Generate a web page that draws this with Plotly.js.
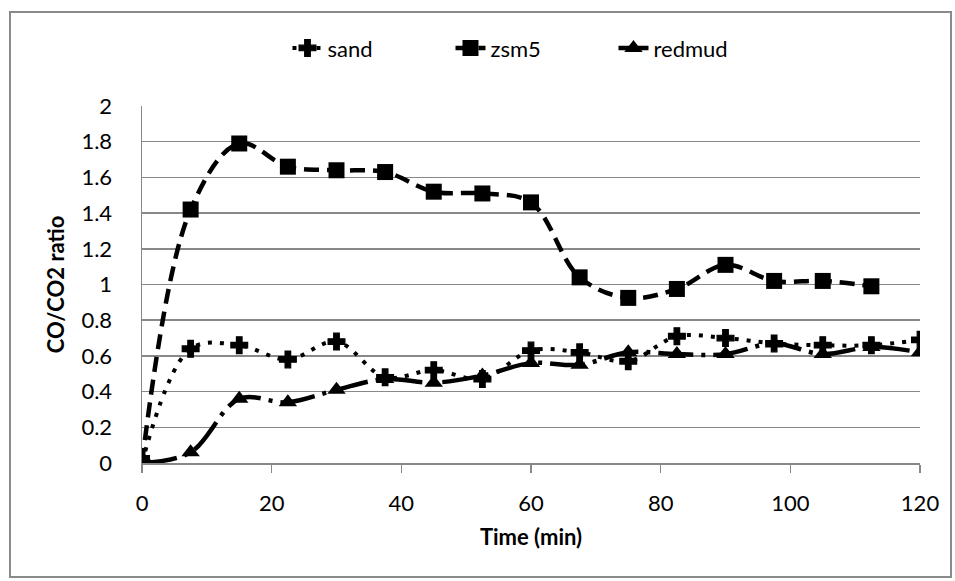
<!DOCTYPE html>
<html>
<head>
<meta charset="utf-8">
<script src="https://cdn.plot.ly/plotly-3.0.1.min.js"></script>
<style>
html,body{margin:0;padding:0;background:#fff;overflow:hidden;width:955px;height:581px;}
#frame{position:absolute;left:9px;top:11px;width:943px;height:567px;border:2px solid #8a8a8a;box-sizing:border-box;pointer-events:none;}
#chart{position:absolute;left:0;top:0;width:955px;height:581px;}
</style>
</head>
<body>
<div id="chart"></div>
<div id="frame"></div>
<script>
var timeMin = [0, 7.5, 15, 22.5, 30, 37.5, 45, 52.5, 60, 67.5, 75, 82.5, 90, 97.5, 105, 112.5, 120];
var timeZsm5 = [0, 7.5, 15, 22.5, 30, 37.5, 45, 52.5, 60, 67.5, 75, 82.5, 90, 97.5, 105, 112.5];
var sand = [0, 0.64, 0.66, 0.58, 0.68, 0.48, 0.52, 0.47, 0.63, 0.62, 0.57, 0.71, 0.70, 0.67, 0.66, 0.66, 0.69];
var zsm5 = [0, 1.42, 1.79, 1.66, 1.64, 1.63, 1.52, 1.51, 1.46, 1.04, 0.925, 0.975, 1.11, 1.02, 1.02, 0.99];
var redmud = [0, 0.06, 0.36, 0.34, 0.41, 0.47, 0.45, 0.49, 0.56, 0.55, 0.62, 0.61, 0.61, 0.67, 0.61, 0.65, 0.62];
var seriesNames = ['sand', 'zsm5', 'redmud'];
var xTitle = 'Time (min)';
var yTitle = 'CO/CO2 ratio';

var FONT = 'Lato, Carlito, Calibri, sans-serif';

var traces = [
  {
    x: timeMin, y: sand, name: seriesNames[0], type: 'scatter', mode: 'lines+markers',
    line: {color: '#000', width: 4, dash: '4px,8px', shape: 'spline', smoothing: 1},
    marker: {symbol: 'cross', size: 14, color: '#000', line: {color: '#000', width: 1.2}}
  },
  {
    x: timeZsm5, y: zsm5, name: seriesNames[1], type: 'scatter', mode: 'lines+markers',
    line: {color: '#000', width: 4.5, dash: '15px,8px', shape: 'spline', smoothing: 1},
    marker: {symbol: 'square', size: 16, color: '#000'}
  },
  {
    x: timeMin, y: redmud, name: seriesNames[2], type: 'scatter', mode: 'lines+markers',
    line: {color: '#000', width: 4.5, dash: '35px,8px,4px,8px', shape: 'spline', smoothing: 1},
    marker: {symbol: 'triangle-up', size: 16, color: '#000'}
  }
];

var layout = {
  width: 955, height: 581,
  margin: {l: 142.3, r: 34.5, t: 106, b: 117.7, pad: 0},
  paper_bgcolor: 'rgba(0,0,0,0)', plot_bgcolor: '#fff',
  font: {family: FONT, size: 22, color: '#000'},
  showlegend: true,
  legend: {
    orientation: 'h', x: 0.187, xanchor: 'left', y: 1.162, yanchor: 'middle',
    entrywidth: 118, entrywidthmode: 'pixels',
    font: {family: FONT, size: 22, color: '#000'}, bgcolor: 'rgba(0,0,0,0)'
  },
  xaxis: {
    range: [0, 120], dtick: 20, tick0: 0, showgrid: false, zeroline: false,
    showline: true, linecolor: '#888', linewidth: 1.5,
    ticks: 'outside', ticklen: 8, tickwidth: 1.5, tickcolor: '#888',
    ticklabelstandoff: 12,
    tickfont: {family: FONT, size: 22, color: '#000'},
    title: {text: xTitle, font: {family: FONT, size: 22, color: '#000', weight: 'bold'}, standoff: 14}
  },
  yaxis: {
    range: [0, 2], dtick: 0.2, tick0: 0, showgrid: true, gridcolor: '#888', gridwidth: 1.5,
    zeroline: false, showline: true, linecolor: '#888', linewidth: 1.5, ticks: '',
    ticklabelstandoff: 24,
    tickfont: {family: FONT, size: 22, color: '#000'},
    title: {text: yTitle, font: {family: FONT, size: 22, color: '#000', weight: 'bold'}, standoff: 10}
  }
};

Plotly.newPlot('chart', traces, layout, {displayModeBar: false, staticPlot: true});
</script>
</body>
</html>
